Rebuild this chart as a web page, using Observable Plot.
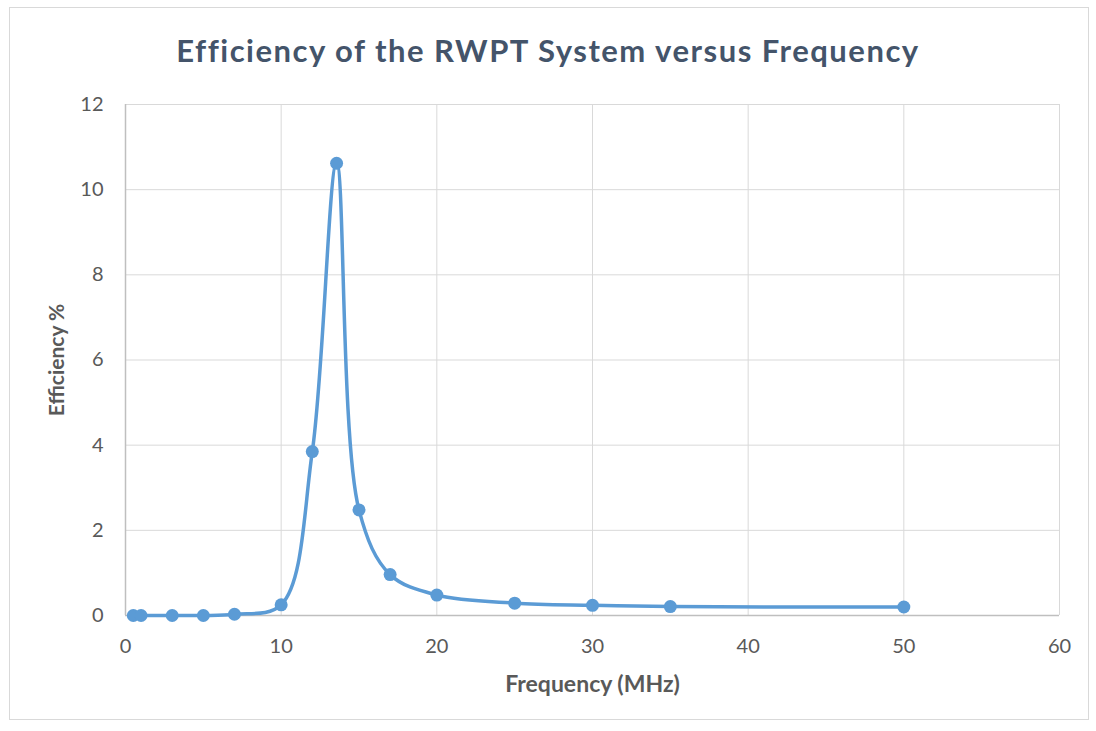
<!DOCTYPE html>
<html>
<head>
<meta charset="utf-8">
<script src="https://cdn.jsdelivr.net/npm/d3@7"></script>
<script src="https://cdn.jsdelivr.net/npm/@observablehq/plot@0.6"></script>
<style>
  html, body { margin: 0; padding: 0; background: #fff; }
  #frame {
    position: absolute; left: 9px; top: 7px; width: 1080px; height: 713px;
    border: 1px solid #d9d9d9; box-sizing: border-box;
  }
  #title {
    position: absolute; left: 0; top: 0; width: 1096px; height: 80px;
    font-family: Lato, "Open Sans", sans-serif; font-weight: bold; font-size: 31px;
    letter-spacing: 1.5px;
    color: #44546a; text-align: center; line-height: 100px;
  }
  #chart { position: absolute; left: 0; top: 80px; }
</style>
</head>
<body>
<div id="frame"></div>
<div id="title">Efficiency of the RWPT System versus Frequency</div>
<div id="chart"></div>
<script>
const frequency = [0.5, 1, 3, 5, 7, 10, 12, 13.56, 15, 17, 20, 25, 30, 35, 50];
const efficiency = [0.0, 0.0, 0.0, 0.0, 0.03, 0.25, 3.85, 10.62, 2.48, 0.96, 0.48, 0.29, 0.24, 0.21, 0.2];
const xTicks = [0, 10, 20, 30, 40, 50, 60];
const yTicks = [0, 2, 4, 6, 8, 10, 12];

const data = frequency.map((f, i) => ({f, e: efficiency[i]}));
const blue = "#5b9bd5";

const chart = Plot.plot({
  width: 1096,
  height: 651,
  marginTop: 24,
  marginBottom: 116,
  marginLeft: 125,
  marginRight: 37,
  style: {fontFamily: "Lato, 'Open Sans', sans-serif", fontSize: "20px", color: "#595959", background: "transparent"},
  x: {domain: [0, 60], ticks: xTicks, tickSize: 0, tickPadding: 23, label: "Frequency (MHz)", labelAnchor: "center", labelArrow: "none", labelOffset: 76},
  y: {domain: [0, 12], ticks: yTicks, tickSize: 0, tickPadding: 22, label: "Efficiency %", labelAnchor: "center", labelArrow: "none", labelOffset: 76},
  marks: [
    Plot.gridX(xTicks, {stroke: "#d9d9d9", strokeOpacity: 1, strokeWidth: 1}),
    Plot.gridY(yTicks, {stroke: "#d9d9d9", strokeOpacity: 1, strokeWidth: 1}),
    Plot.ruleY([0], {stroke: "#bfbfbf", strokeWidth: 1.5}),
    Plot.ruleX([0], {stroke: "#bfbfbf", strokeWidth: 1.5}),
    Plot.line(data, {x: "f", y: "e", curve: "catmull-rom", stroke: blue, strokeWidth: 3.5}),
    Plot.dot(data, {x: "f", y: "e", r: 6.5, fill: blue, stroke: "none"})
  ]
});
chart.querySelectorAll("[aria-label='x-axis label'] text").forEach(t => {
  t.setAttribute("font-weight", "bold");
  t.setAttribute("font-size", "23px");
});
chart.querySelectorAll("[aria-label='y-axis label'] text").forEach(t => {
  t.setAttribute("font-weight", "bold");
  t.setAttribute("font-size", "21px");
});
document.getElementById("chart").append(chart);
</script>
</body>
</html>
